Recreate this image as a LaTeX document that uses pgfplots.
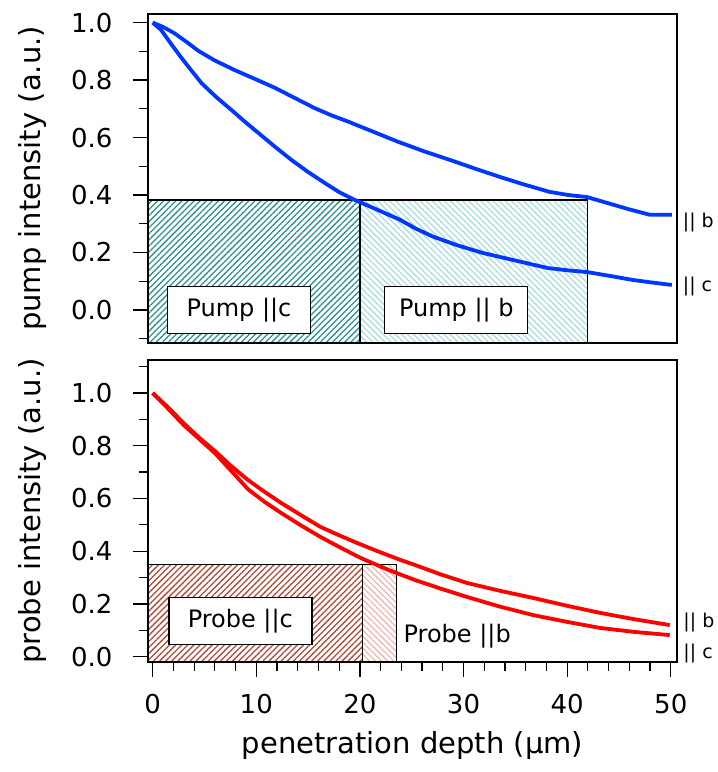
\documentclass[border=0pt]{standalone}
\usepackage{fontspec}
\setmainfont{DejaVu Sans}
\usepackage{pgfplots}
\pgfplotsset{compat=1.18}
\usetikzlibrary{patterns.meta}
\definecolor{myblue}{RGB}{0,55,255}
\definecolor{myred}{RGB}{255,0,0}
\definecolor{tealdark}{RGB}{45,145,145}
\definecolor{teallight}{RGB}{170,222,222}
\definecolor{reddark}{RGB}{175,75,55}
\definecolor{redlight}{RGB}{238,185,180}
\tikzset{
  boxlab/.style={draw, fill=white, line width=1.4pt, minimum width=143pt, minimum height=47pt, inner sep=0pt, font=\fontsize{24}{28}\selectfont},
  sidelab/.style={anchor=west, inner sep=0pt, font=\fontsize{19}{23}\selectfont},
}
\pgfplotsset{
  common/.style={
    scale only axis, width=529pt,
    xmin=-0.45, xmax=50.6,
    axis line style={line width=1.2pt, black},
    every tick/.style={line width=1.2pt, black},
    tick align=outside, tick pos=left,
    major tick length=15pt, minor tick length=9pt,
    clip=false,
    /pgf/number format/assume math mode=true,
    ytick={0,0.2,0.4,0.6,0.8,1.0},
    yticklabel style={/pgf/number format/fixed, /pgf/number format/fixed zerofill, /pgf/number format/precision=1, xshift=-17pt},
    xticklabel style={yshift=-14pt},
    tick label style={font=\fontsize{26}{30}\selectfont},
    label style={font=\fontsize{29}{34}\selectfont},
    ylabel style={at={(axis description cs:-0.2174,0.5)}, anchor=center},
  }
}
\begin{document}
\begin{tikzpicture}
\path[use as bounding box] (0,0) rectangle (718pt,772pt);
% ---------------- top: pump ----------------
\begin{axis}[common,
  at={(148pt,429pt)}, anchor=south west, height=329pt,
  ymin=-0.115, ymax=1.03,
  xtick=\empty,
  minor ytick={-0.1,0.1,0.3,0.5,0.7,0.9},
  ylabel={pump intensity (a.u.)},
]
\addplot[draw=black, line width=1.2pt, pattern={Lines[angle=45,distance=4.3pt,line width=1.3pt]}, pattern color=tealdark]
  coordinates {(-0.45,-0.115) (20,-0.115) (20,0.383) (-0.45,0.383) (-0.45,-0.115)};
\addplot[draw=black, line width=1.2pt, pattern={Lines[angle=-45,distance=4.3pt,line width=1.3pt]}, pattern color=teallight]
  coordinates {(20,-0.115) (42,-0.115) (42,0.383) (20,0.383) (20,-0.115)};
\node[boxlab] at (axis cs:8.33,0) {Pump ||c};
\node[boxlab] at (axis cs:29.3,0) {Pump || b};
% || b
\addplot[myblue, line width=3.8pt, line join=round] coordinates {
 (0,1.0) (1,0.985) (2.1,0.963) (3.3,0.932) (4.4,0.902) (6.0,0.868) (7.9,0.835) (9.8,0.805)
 (11.8,0.773) (13.7,0.738) (15.6,0.703) (17.2,0.678) (18.9,0.655) (21.3,0.62) (23.7,0.585)
 (26.2,0.552) (28.7,0.522) (31.1,0.492) (33.5,0.463) (35.9,0.436) (38.3,0.411)
 (40.1,0.400) (41.9,0.393) (43.9,0.372) (46.0,0.350) (48.0,0.331) (50.1,0.331)};
% || c
\addplot[myblue, line width=3.8pt, line join=round] coordinates {
 (0,1.0) (0.8,0.975) (1.7,0.93) (2.7,0.881) (3.7,0.835) (4.7,0.790) (6.1,0.742) (7.6,0.696)
 (8.9,0.655) (10.2,0.616) (11.8,0.568) (13.4,0.522) (15.0,0.480) (16.6,0.442) (18.0,0.410)
 (19.5,0.383) (21.6,0.350) (23.8,0.315) (25.4,0.283) (27.0,0.256) (29.4,0.225) (31.9,0.198)
 (35.0,0.172) (38.1,0.146) (40.0,0.138) (41.9,0.132) (44.2,0.118) (46.4,0.104) (48.3,0.095) (50.1,0.087)};
\node[sidelab] at (axis cs:51.15,0.306) {|| b};
\node[sidelab] at (axis cs:51.15,0.080) {|| c};
\end{axis}
% ---------------- bottom: probe ----------------
\begin{axis}[common,
  at={(148pt,110pt)}, anchor=south west, height=302pt,
  ymin=-0.02, ymax=1.125,
  xtick={0,10,20,30,40,50}, minor x tick num=4,
  minor ytick={0.1,0.3,0.5,0.7,0.9,1.1},
  ylabel={probe intensity (a.u.)},
  xlabel={penetration depth (µm)},
  xlabel style={at={(axis description cs:0.5,-0.275)}, anchor=center},
]
\addplot[draw=black, line width=1.2pt, pattern={Lines[angle=45,distance=4.3pt,line width=1.3pt]}, pattern color=reddark]
  coordinates {(-0.45,-0.02) (20.27,-0.02) (20.27,0.351) (-0.45,0.351) (-0.45,-0.02)};
\addplot[draw=black, line width=1.2pt, pattern={Lines[angle=-45,distance=4.3pt,line width=1.3pt]}, pattern color=redlight]
  coordinates {(20.27,-0.02) (23.5,-0.02) (23.5,0.351) (20.27,0.351) (20.27,-0.02)};
\node[boxlab] at (axis cs:8.46,0.135) {Probe ||c};
\node[anchor=west, inner sep=0pt, font=\fontsize{24}{28}\selectfont] at (axis cs:24.2,0.078) {Probe ||b};
% || b
\addplot[myred, line width=3.8pt, line join=round] coordinates {
 (0,1.0) (1.5,0.945) (3.0,0.885) (4.5,0.83) (6.0,0.78) (7.6,0.722) (9.2,0.670) (10.8,0.625)
 (12.4,0.583) (14.3,0.537) (16.2,0.492) (17.9,0.462) (19.5,0.435) (21.7,0.400) (23.9,0.367)
 (25.3,0.348) (27.8,0.312) (30.3,0.280) (33.5,0.250) (36.7,0.223) (40.0,0.193) (43.2,0.166)
 (46.5,0.142) (49.9,0.120)};
% || c
\addplot[myred, line width=3.8pt, line join=round] coordinates {
 (0,1.0) (1.5,0.94) (3.0,0.878) (4.5,0.825) (6.0,0.772) (7.5,0.708) (9.2,0.635) (10.8,0.587)
 (12.4,0.545) (14.3,0.498) (16.2,0.454) (18.2,0.412) (20.1,0.374) (22.7,0.330) (25.3,0.291)
 (27.8,0.258) (30.3,0.227) (33.5,0.190) (36.7,0.158) (40.0,0.132) (43.2,0.109) (46.5,0.094)
 (49.9,0.082)};
\node[sidelab] at (axis cs:51.2,0.128) {|| b};
\node[sidelab] at (axis cs:51.2,0.014) {|| c};
\end{axis}
\end{tikzpicture}
\end{document}
